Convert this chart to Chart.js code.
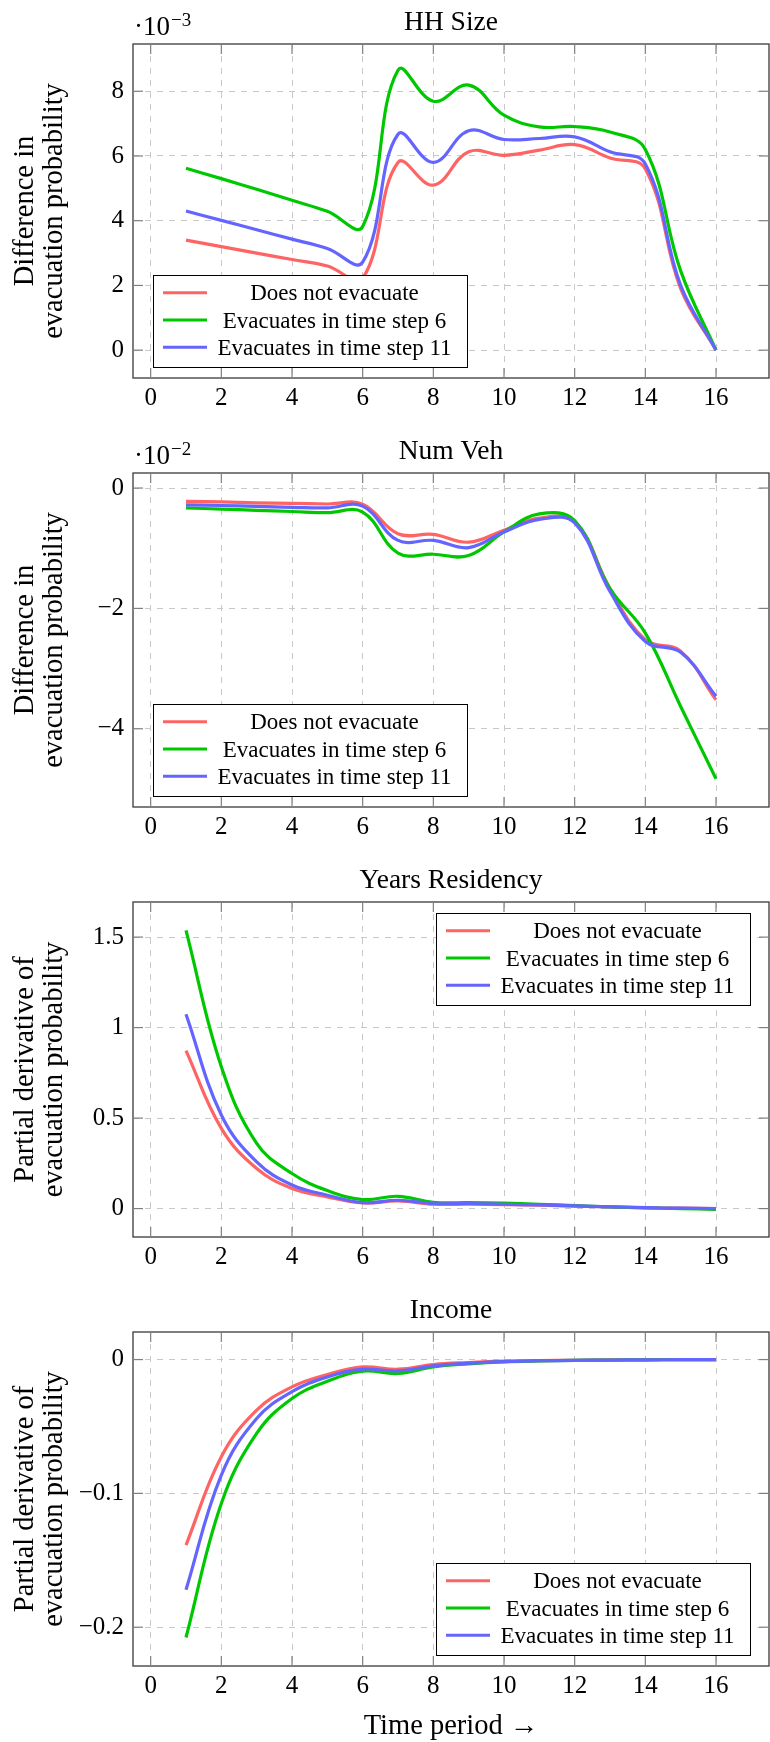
<!DOCTYPE html>
<html>
<head>
<meta charset="utf-8">
<script src="https://cdn.jsdelivr.net/npm/chart.js@4.4.1/dist/chart.umd.min.js"></script>
<style>
  html, body { margin: 0; padding: 0; background: #fff; }
  #page { position: relative; width: 770px; height: 1742px; }
  #page canvas { position: absolute; left: 0; top: 0; }
</style>
</head>
<body>
<div id="page">
  <canvas id="hhSize" width="770" height="1742"></canvas>
  <canvas id="numVeh" width="770" height="1742"></canvas>
  <canvas id="yearsRes" width="770" height="1742"></canvas>
  <canvas id="income" width="770" height="1742"></canvas>
</div>
<script>
const timeSteps = [1, 2, 3, 4, 5, 6, 7, 8, 9, 10, 11, 12, 13, 14, 15, 16];
const seriesNames = ["Does not evacuate", "Evacuates in time step 6", "Evacuates in time step 11"];
const seriesColors = ["#ff6464", "#00c800", "#6464ff"];

// HH Size (units of 10^-3)
const hhSizeNoEvac = [3.40, 3.20, 3.00, 2.80, 2.60, 2.22, 5.80, 5.10, 6.13, 6.02, 6.18, 6.35, 5.94, 5.60, 1.90, 0.00];
const hhSizeEvac6  = [5.62, 5.30, 4.97, 4.63, 4.29, 3.82, 8.65, 7.69, 8.19, 7.26, 6.90, 6.91, 6.74, 6.20, 2.45, 0.00];
const hhSizeEvac11 = [4.30, 4.01, 3.72, 3.43, 3.14, 2.72, 6.67, 5.80, 6.78, 6.51, 6.54, 6.59, 6.13, 5.75, 2.00, 0.00];

// Num Veh (units of 10^-2)
const numVehNoEvac = [-0.22, -0.23, -0.245, -0.255, -0.265, -0.27, -0.76, -0.77, -0.90, -0.70, -0.50, -0.56, -1.67, -2.52, -2.71, -3.52];
const numVehEvac6  = [-0.33, -0.35, -0.37, -0.39, -0.41, -0.40, -1.08, -1.10, -1.12, -0.73, -0.43, -0.54, -1.67, -2.41, -3.63, -4.83];
const numVehEvac11 = [-0.28, -0.29, -0.305, -0.32, -0.33, -0.30, -0.87, -0.87, -0.99, -0.73, -0.52, -0.58, -1.72, -2.55, -2.73, -3.46];

// Years Residency
const yearsResNoEvac = [0.873, 0.443, 0.221, 0.111, 0.065, 0.031, 0.042, 0.024, 0.024, 0.022, 0.019, 0.014, 0.009, 0.005, 0.002, 0.000];
const yearsResEvac6  = [1.537, 0.784, 0.360, 0.194, 0.100, 0.050, 0.068, 0.035, 0.033, 0.030, 0.024, 0.017, 0.009, 0.004, 0.000, -0.004];
const yearsResEvac11 = [1.074, 0.517, 0.258, 0.130, 0.074, 0.033, 0.046, 0.028, 0.028, 0.024, 0.020, 0.015, 0.010, 0.005, 0.002, 0.000];

// Income
const incomeNoEvac = [-0.1386, -0.0726, -0.0378, -0.0204, -0.0112, -0.0055, -0.0072, -0.0037, -0.0022, -0.0012, -0.0008, -0.0005, -0.0003, -0.0002, -0.0001, 0];
const incomeEvac6  = [-0.2077, -0.1075, -0.0552, -0.0291, -0.0162, -0.0087, -0.0104, -0.0055, -0.0032, -0.0017, -0.0010, -0.0006, -0.0004, -0.0002, -0.0001, 0];
const incomeEvac11 = [-0.1720, -0.0863, -0.0440, -0.0240, -0.0130, -0.0072, -0.0085, -0.0047, -0.0027, -0.0015, -0.0009, -0.0006, -0.0004, -0.0002, -0.0001, 0];

const xTicks = [0, 2, 4, 6, 8, 10, 12, 14, 16];
const hhSizeTicks = [0, 2, 4, 6, 8];
const hhSizeTickLabels = ["0", "2", "4", "6", "8"];
const numVehTicks = [-4, -2, 0];
const numVehTickLabels = ["\u22124", "\u22122", "0"];
const yearsResTicks = [0, 0.5, 1, 1.5];
const yearsResTickLabels = ["0", "0.5", "1", "1.5"];
const incomeTicks = [-0.2, -0.1, 0];
const incomeTickLabels = ["\u22120.2", "\u22120.1", "0"];

const SERIF = 'Liberation Serif';
Chart.defaults.font.family = SERIF;

// per-panel text and placement (page pixels)
const panels = {
  hhSize:   { title: "HH Size", yLabel: ["Difference in", "evacuation probability"], exp: "\u22123",
              top: 44, bottom: 378, yMin: -0.86, yMax: 9.46, legend: "sw",
              series: [hhSizeNoEvac, hhSizeEvac6, hhSizeEvac11], ticks: hhSizeTicks, labels: hhSizeTickLabels },
  numVeh:   { title: "Num Veh", yLabel: ["Difference in", "evacuation probability"], exp: "\u22122",
              top: 473, bottom: 807, yMin: -5.3, yMax: 0.25, legend: "sw",
              series: [numVehNoEvac, numVehEvac6, numVehEvac11], ticks: numVehTicks, labels: numVehTickLabels },
  yearsRes: { title: "Years Residency", yLabel: ["Partial derivative of", "evacuation probability"], exp: null,
              top: 902, bottom: 1237, yMin: -0.157, yMax: 1.694, legend: "ne",
              series: [yearsResNoEvac, yearsResEvac6, yearsResEvac11], ticks: yearsResTicks, labels: yearsResTickLabels },
  income:   { title: "Income", yLabel: ["Partial derivative of", "evacuation probability"], exp: null,
              top: 1332, bottom: 1666, yMin: -0.229, yMax: 0.0206, legend: "se", xTitle: "Time period \u2192",
              series: [incomeNoEvac, incomeEvac6, incomeEvac11], ticks: incomeTicks, labels: incomeTickLabels }
};

function hline(ctx, x1, y1, x2, y2) {
  ctx.beginPath(); ctx.moveTo(x1, y1); ctx.lineTo(x2, y2); ctx.stroke();
}

const decorPlugin = {
  id: 'decor',
  afterDraw(chart) {
    const p = panels[chart.canvas.id];
    const ctx = chart.ctx;
    const a = chart.chartArea;
    const sx = chart.scales.x, sy = chart.scales.y;
    ctx.save();

    // legend
    const lw = 314, lh = 92;
    const lx = p.legend === "sw" ? a.left + 20 : a.right - 19 - lw;
    const ly = p.legend === "ne" ? a.top + 11 : a.bottom - 11 - lh;
    ctx.fillStyle = '#fff';
    ctx.fillRect(lx, ly, lw, lh);
    ctx.strokeStyle = '#000';
    ctx.lineWidth = 1;
    ctx.strokeRect(lx + 0.5, ly + 0.5, lw, lh);
    ctx.font = '23px "' + SERIF + '"';
    ctx.textAlign = 'center';
    ctx.textBaseline = 'alphabetic';
    seriesNames.forEach(function (name, i) {
      const cy = ly + 17.7 + i * 27.3;
      ctx.strokeStyle = seriesColors[i];
      ctx.lineWidth = 3;
      hline(ctx, lx + 10, cy, lx + 54, cy);
      ctx.fillStyle = '#000';
      ctx.fillText(name, lx + 181.5, cy + 7.5);
    });

    // frame
    ctx.strokeStyle = '#3a3a3a';
    ctx.lineWidth = 1.3;
    ctx.strokeRect(a.left, a.top, a.right - a.left, a.bottom - a.top);

    // inner tick marks on all four sides
    ctx.strokeStyle = '#808080';
    ctx.lineWidth = 1.2;
    xTicks.forEach(function (v) {
      const px = sx.getPixelForValue(v);
      hline(ctx, px, a.top, px, a.top + 10);
      hline(ctx, px, a.bottom, px, a.bottom - 10);
    });
    p.ticks.forEach(function (v) {
      const py = sy.getPixelForValue(v);
      hline(ctx, a.left, py, a.left + 10, py);
      hline(ctx, a.right, py, a.right - 10, py);
    });

    // title
    ctx.fillStyle = '#000';
    ctx.textAlign = 'center';
    ctx.font = '27.5px "' + SERIF + '"';
    ctx.fillText(p.title, (a.left + a.right) / 2, a.top - 14);

    // exponent marker
    if (p.exp) {
      ctx.textAlign = 'left';
      ctx.font = '27px "' + SERIF + '"';
      ctx.fillText('\u00b710', 134, a.top - 9);
      const w = ctx.measureText('\u00b710').width;
      ctx.font = '19px "' + SERIF + '"';
      ctx.fillText(p.exp, 134 + w + 1, a.top - 18);
    }

    // y axis label (two lines, rotated)
    ctx.font = '28.5px "' + SERIF + '"';
    ctx.textAlign = 'center';
    const cyMid = (a.top + a.bottom) / 2;
    [33, 62].forEach(function (bx, i) {
      ctx.save();
      ctx.translate(bx, cyMid);
      ctx.rotate(-Math.PI / 2);
      ctx.fillText(p.yLabel[i], 0, 0);
      ctx.restore();
    });

    // x axis label
    if (p.xTitle) {
      ctx.font = '28.5px "' + SERIF + '"';
      ctx.fillText(p.xTitle, (a.left + a.right) / 2, 1734);
    }
    ctx.restore();
  }
};

Object.keys(panels).forEach(function (id) {
  const p = panels[id];
  const datasets = p.series.map(function (vals, i) {
    return {
      label: seriesNames[i],
      data: timeSteps.map(function (t, k) { return { x: t, y: vals[k] }; }),
      borderColor: seriesColors[i],
      backgroundColor: 'transparent',
      borderWidth: 3.2,
      pointRadius: 0,
      tension: 0.4,
      fill: false,
      order: 3 - i
    };
  });

  new Chart(document.getElementById(id), {
    type: 'line',
    data: { datasets: datasets },
    plugins: [decorPlugin],
    options: {
      responsive: false,
      animation: false,
      devicePixelRatio: 1,
      events: [],
      layout: { padding: { top: p.top, right: 1, left: 0, bottom: 0 } },
      plugins: { legend: { display: false }, title: { display: false }, tooltip: { enabled: false } },
      scales: {
        x: {
          type: 'linear',
          min: -0.5,
          max: 17.5,
          afterFit: function (s) { s.height = 1742 - p.bottom; },
          afterBuildTicks: function (s) { s.ticks = xTicks.map(function (v) { return { value: v }; }); },
          grid: { color: '#c8c8c8', lineWidth: 1, drawTicks: false },
          border: { display: false, dash: [6, 6] },
          ticks: {
            autoSkip: false,
            maxRotation: 0,
            padding: 5,
            color: '#000',
            font: { family: SERIF, size: 25, lineHeight: 1.2 },
            callback: function (v) { return String(v); }
          }
        },
        y: {
          type: 'linear',
          min: p.yMin,
          max: p.yMax,
          afterFit: function (s) { s.width = 133; },
          afterBuildTicks: function (s) { s.ticks = p.ticks.map(function (v) { return { value: v }; }); },
          grid: { color: '#c8c8c8', lineWidth: 1, drawTicks: false },
          border: { display: false, dash: [6, 6] },
          ticks: {
            padding: 9,
            color: '#000',
            font: { family: SERIF, size: 25, lineHeight: 1.0 },
            callback: function (v, idx) { return p.labels[idx]; }
          }
        }
      }
    }
  });
});
</script>
</body>
</html>
